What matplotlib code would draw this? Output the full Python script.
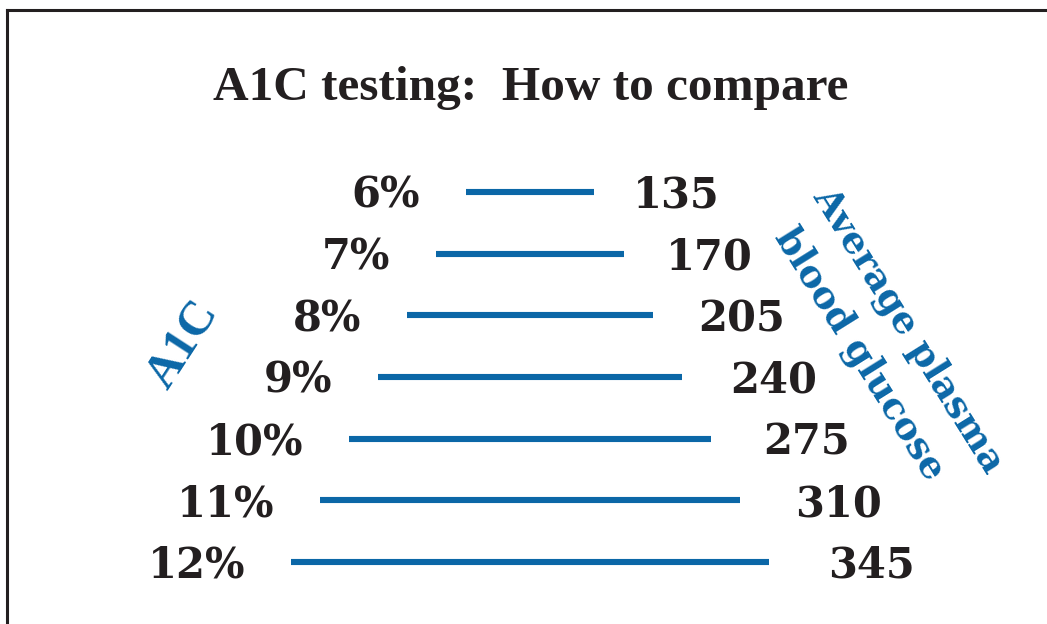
import matplotlib
matplotlib.use("Agg")
import matplotlib.pyplot as plt
from matplotlib.lines import Line2D

# ---- data ----
a1c_percent = [6, 7, 8, 9, 10, 11, 12]
avg_glucose = [135, 170, 205, 240, 275, 310, 345]
a1c_labels = [f"{v}%" for v in a1c_percent]
glucose_labels = [str(v) for v in avg_glucose]
title_text = "A1C testing:  How to compare"
left_axis_text = "A1C"
right_axis_lines = ["Average plasma", "blood glucose"]

BLUE = "#0b67a7"
INK = "#231f20"
W, H, DPI = 1047, 624, 100

fig = plt.figure(figsize=(W / DPI, H / DPI), dpi=DPI)
fig.patch.set_facecolor("white")
ax = fig.add_axes([0, 0, 1, 1])
ax.set_axis_off()

# scale: x units ~ glucose, centred on the figure; y units = A1C %
px_per_unit_x = 0.831
centre_px = 530
ax.set_xlim(-centre_px / px_per_unit_x, (W - centre_px) / px_per_unit_x)
px_per_unit_y = 61.67
top_px = 192
ax.set_ylim(6 + (H - top_px) / px_per_unit_y, 6 - top_px / px_per_unit_y)

g0 = 57.4  # baseline so that bar length grows with glucose
num_font = dict(family="DejaVu Serif", weight="bold", size=30, color=INK)
for i, (a, g, ll, rl) in enumerate(zip(a1c_percent, avg_glucose, a1c_labels, glucose_labels)):
    half = g - g0
    ax.hlines(a, -half, half, color=BLUE, linewidth=4.4, capstyle="butt")
    ax.annotate(ll, xy=(-half, a), xytext=(-33, -11.5), textcoords="offset points",
                ha="right", va="baseline", **num_font)
    ax.annotate(rl, xy=(half, a), xytext=(28 + 2.4 * i, -11.5), textcoords="offset points",
                ha="left", va="baseline", **num_font)

# title
fig.text(531 / W, 1 - 100 / H, title_text, ha="center", va="baseline",
         family="Liberation Serif", weight="bold", size=35.5, color=INK)

# rotated axis labels
fig.text(183 / W, 1 - 345 / H, left_axis_text, rotation=57, rotation_mode="anchor",
         ha="center", va="center", family="Liberation Serif", weight="bold",
         size=35, color=BLUE)
fig.text(909 / W, 1 - 330 / H, right_axis_lines[0], rotation=-58, rotation_mode="anchor",
         ha="center", va="center", family="DejaVu Serif", weight="bold",
         size=27, color=BLUE)
fig.text(860 / W, 1 - 354 / H, right_axis_lines[1], rotation=-58, rotation_mode="anchor",
         ha="center", va="center", family="DejaVu Serif", weight="bold",
         size=27, color=BLUE)

# frame (top and left edges)
fig.add_artist(Line2D([6.5 / W, 1.0], [1 - 10 / H, 1 - 10 / H], transform=fig.transFigure,
                      color=INK, linewidth=2.2, solid_capstyle="projecting"))
fig.add_artist(Line2D([6.5 / W, 6.5 / W], [1 - 10 / H, 0.0], transform=fig.transFigure,
                      color=INK, linewidth=2.2, solid_capstyle="projecting"))

fig.savefig("out.png", dpi=DPI, facecolor="white")
